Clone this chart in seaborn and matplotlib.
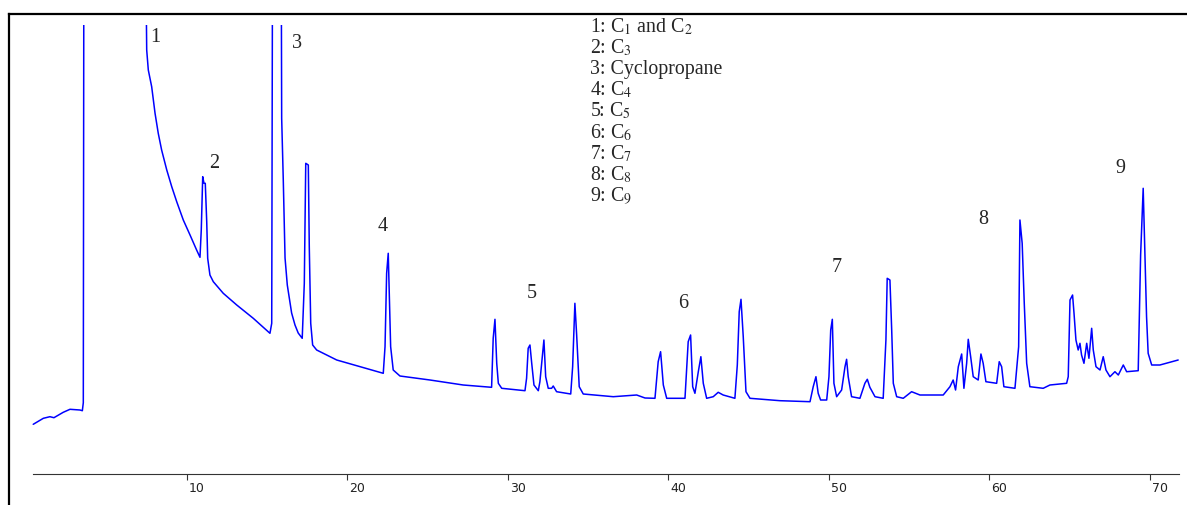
import matplotlib
matplotlib.use("Agg")
import matplotlib.pyplot as plt
import matplotlib.transforms as mtransforms
from matplotlib.patches import Rectangle
import seaborn as sns

# chromatogram trace: retention time (min) and signal (a.u.)
# values of 600 are off-scale (clipped at the top of the plot)
time = [0.42, 1.05, 1.46, 1.71, 2.29, 2.71, 3.33, 3.48, 3.54, 3.58, 7.35, 7.38,
        7.49, 7.59, 7.80, 8.01, 8.21, 8.42, 8.74, 9.05, 9.36, 9.77, 10.19,
        10.60, 10.81, 10.89, 10.98, 11.06, 11.14, 11.23, 11.29, 11.43, 11.64,
        12.26, 13.10, 14.13, 15.17, 15.28, 15.34, 15.86, 15.90, 16.00, 16.11,
        16.25, 16.42, 16.52, 16.73, 16.93, 17.18, 17.31, 17.40, 17.56, 17.62,
        17.71, 17.83, 18.08, 19.33,
        20.78, 22.23, 22.34, 22.44, 22.54, 22.60, 22.69, 22.85, 23.27, 25.14,
        27.21, 28.98, 29.08, 29.19, 29.30, 29.40, 29.61, 31.06, 31.16, 31.26,
        31.37, 31.48, 31.62, 31.89, 31.99, 32.16, 32.24, 32.35, 32.51, 32.72,
        32.82, 33.03, 33.91, 34.03, 34.17, 34.28, 34.44, 34.69, 36.56, 38.02,
        38.54, 39.16, 39.36, 39.51, 39.68, 39.89, 41.03, 41.23, 41.38, 41.51,
        41.65, 41.86, 42.02, 42.17, 42.38, 42.79, 43.10, 43.41, 44.14, 44.29,
        44.41, 44.52, 44.66, 44.83, 45.08, 46.95, 48.82, 49.02, 49.19, 49.33,
        49.48, 49.86, 50.00, 50.11, 50.21, 50.31, 50.48, 50.79, 51.00, 51.10,
        51.20, 51.41, 51.93, 52.24, 52.39, 52.55, 52.87, 53.38, 53.55, 53.63,
        53.80, 53.91, 54.01, 54.22, 54.63, 55.15, 55.67, 57.12, 57.54, 57.74,
        57.89, 58.06, 58.27, 58.41, 58.58, 58.68, 58.83, 58.99, 59.30, 59.47,
        59.61, 59.78, 60.45, 60.61, 60.76, 60.90, 61.59, 61.82, 61.90, 62.04,
        62.17, 62.32, 62.52, 63.35, 63.77, 64.81, 64.91, 65.02, 65.18, 65.27,
        65.39, 65.53, 65.64, 65.74, 65.89, 66.06, 66.20, 66.37, 66.47, 66.64,
        66.89, 67.09, 67.26, 67.51, 67.82, 68.03, 68.34, 68.55, 69.27, 69.42,
        69.58, 69.69, 69.79, 69.89, 70.11, 70.62, 71.76]
signal = [49.7, 55.7, 57.3, 56.3, 61.7, 64.7, 64.0, 63.3, 71.3, 600, 600, 600,
          424.0, 404.0, 387.3, 360.7, 340.7, 324.0, 304.0, 287.3, 272.3, 254.0,
          239.0, 224.0, 216.7, 244.0, 297.3, 290.7, 290.7, 252.3, 215.7, 199.0,
          192.3, 180.7, 169.0, 155.7, 140.7, 150.7, 600, 600, 355.7, 294.0,
          216.0, 189.0, 171.0, 161.0, 149.0, 141.0, 135.7, 190.7, 310.7, 309.0,
          227.3, 150.7, 129.0, 124.0, 114.0,
          107.3, 100.7, 127.3, 200.7, 220.7, 184.0, 127.3, 104.0, 98.0, 94.0,
          89.0, 86.7, 135.7, 154.7, 110.7, 90.7, 85.7, 83.3, 95.7, 125.7,
          129.0, 110.7, 89.0, 83.3, 92.3, 120.7, 134.0, 97.3, 85.7, 85.7,
          88.0, 82.3, 80.0, 107.3, 170.7, 139.0, 87.3, 80.0, 77.3, 79.0,
          76.0, 75.7, 112.3, 122.3, 89.0, 75.7, 75.7, 132.3, 139.0, 87.3,
          80.7, 102.3, 117.3, 90.7, 75.7, 77.3, 81.7, 79.0, 75.7, 109.0,
          162.3, 174.7, 137.3, 82.3, 75.7, 73.3, 72.3, 87.3, 97.3, 80.7,
          74.0, 74.0, 97.3, 144.0, 154.7, 90.7, 77.3, 84.0, 107.3, 114.7,
          97.3, 77.3, 75.7, 90.7, 94.7, 86.7, 77.3, 75.7, 134.0, 195.7,
          194.0, 144.0, 90.7, 77.3, 75.7, 82.3, 79.0, 79.0, 87.3, 94.0,
          84.0, 107.3, 120.0, 85.7, 110.7, 134.7, 117.3, 97.3, 94.0, 120.0,
          110.7, 92.3, 90.7, 112.3, 107.3, 87.3, 85.7, 127.3, 254.0, 230.7,
          170.7, 110.7, 87.3, 85.7, 89.0, 90.7, 97.3, 174.0, 179.0, 160.7,
          134.0, 124.0, 130.7, 119.0, 110.7, 130.7, 115.7, 145.7, 124.0, 107.3,
          104.0, 117.3, 104.0, 97.3, 102.3, 99.0, 109.0, 102.3, 103.3, 219.0,
          285.7, 219.0, 157.3, 120.7, 109.0, 109.0, 114.0]

# peak numbers and where they are written
peak_ids = ["1", "2", "3", "4", "5", "6", "7", "8", "9"]
peak_t = [8.01, 11.68, 16.85, 22.21, 31.50, 40.90, 50.50, 59.60, 68.13]
peak_s = [437, 311, 431, 248, 181, 171, 206, 255, 306]

legend_lines = ["1: C$_1$ and C$_2$", "2: C$_3$", "3: Cyclopropane", "4: C$_4$",
                "5: C$_5$", "6: C$_6$", "7: C$_7$", "8: C$_8$", "9: C$_9$"]

ticks = [10, 20, 30, 40, 50, 60, 70]

sns.set_style("white")
plt.rcParams["font.family"] = ["Liberation Serif", "DejaVu Serif"]
plt.rcParams["mathtext.fontset"] = "stix"

fig = plt.figure(figsize=(11.87, 5.05), dpi=100)
ax = fig.add_axes([9 / 1187, 0, 1178 / 1187, 491 / 505])

sns.lineplot(x=time, y=signal, sort=False, estimator=None,
             color="#0000ff", linewidth=1.1, ax=ax)
# the recorder clips the trace a little below the frame
ax.lines[0].set_clip_path(Rectangle((-2, -40), 80, 489, transform=ax.transData))

ax.set_xlim(-1.09, 72.31)
ax.set_ylim(-31, 460)

for side in ["top", "left"]:
    ax.spines[side].set_linewidth(1.6)
    ax.spines[side].set_color("black")
ax.spines["right"].set_visible(False)
ax.spines["bottom"].set_position(("data", 0))
ax.spines["bottom"].set_bounds(0.42, 71.79)
ax.spines["bottom"].set_linewidth(0.8)
ax.spines["bottom"].set_color("#333333")

ax.set_yticks([])
ax.set_xticks(ticks)
ax.set_xticklabels([str(t) for t in ticks], fontfamily="DejaVu Sans", fontsize=9,
                   color="#222222")
ax.tick_params(axis="x", direction="out", length=4.3, width=0.8, pad=1.2,
               color="#333333", bottom=True)
shift = mtransforms.ScaledTranslation(2 / 100, 0, fig.dpi_scale_trans)
for lab in ax.get_xticklabels():
    lab.set_horizontalalignment("left")
    lab.set_transform(lab.get_transform() + shift)
ax.set_xlabel("")
ax.set_ylabel("")

for pid, t, s in zip(peak_ids, peak_t, peak_s):
    ax.text(t, s, pid, fontsize=14.5, ha="center", va="center")

for i, line in enumerate(legend_lines):
    ax.text(35.1, 447 - 21.1 * i, line, fontsize=14.3, ha="left", va="center")

fig.savefig("out.png", dpi=100)
